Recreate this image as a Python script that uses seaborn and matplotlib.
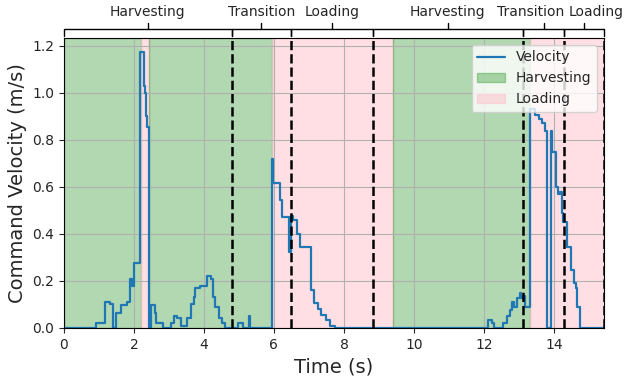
import numpy as np
import pandas as pd
import seaborn as sns
import matplotlib.pyplot as plt
import matplotlib.transforms as mtransforms

# Velocity trace (step-post)
time = [0.0, 0.93, 1.17, 1.31, 1.40, 1.50, 1.62, 1.79, 1.88, 1.96, 2.00, 2.17,
        2.28, 2.31, 2.34, 2.38, 2.44, 2.50, 2.60, 2.64, 2.82, 3.05, 3.15, 3.24,
        3.34, 3.52, 3.62, 3.71, 3.76, 3.90, 4.10, 4.19, 4.26, 4.33, 4.43, 4.52,
        4.60, 4.97, 5.13, 5.29, 5.33, 5.95, 5.98, 6.17, 6.24, 6.43, 6.49, 6.55,
        6.65, 6.74, 7.05, 7.15, 7.27, 7.35, 7.50, 7.60, 7.74, 12.12, 12.22,
        12.29, 12.55, 12.65, 12.74, 12.79, 12.86, 12.93, 13.02, 13.07, 13.12,
        13.17, 13.30, 13.47, 13.56, 13.65, 13.73, 13.79, 13.91, 13.95, 14.07,
        14.12, 14.17, 14.22, 14.27, 14.38, 14.49, 14.56, 14.62, 14.67, 14.74,
        15.43]
velocity = [0.0, 0.02, 0.11, 0.10, 0.0, 0.064, 0.098, 0.11, 0.21, 0.18, 0.275,
            1.176, 1.03, 1.00, 0.90, 0.857, 0.0, 0.098, 0.064, 0.02, 0.0, 0.02,
            0.05, 0.04, 0.01, 0.04, 0.10, 0.13, 0.17, 0.18, 0.22, 0.21, 0.13,
            0.09, 0.04, 0.02, 0.0, 0.02, 0.0, 0.05, 0.0, 0.72, 0.617, 0.545,
            0.47, 0.325, 0.475, 0.46, 0.40, 0.346, 0.16, 0.105, 0.08, 0.055,
            0.034, 0.01, 0.0, 0.034, 0.02, 0.0, 0.02, 0.05, 0.077, 0.11, 0.09,
            0.127, 0.148, 0.127, 0.135, 0.09, 0.93, 0.905, 0.89, 0.87, 0.84,
            0.0, 0.84, 0.75, 0.60, 0.57, 0.58, 0.49, 0.45, 0.346, 0.247, 0.19,
            0.17, 0.09, 0.0, 0.0]

# Shaded states (start, end, state)
span_start = [0.0, 2.19, 2.43, 5.95, 9.40, 13.30]
span_end = [2.19, 2.43, 5.95, 9.40, 13.30, 15.43]
span_state = ['Harvesting', 'Loading', 'Harvesting', 'Loading', 'Harvesting', 'Loading']

# Phase brackets on top
phase_bounds = [0.0, 4.80, 6.49, 8.83, 13.11, 14.29, 15.43]
phase_labels = ['Harvesting', 'Transition', 'Loading', 'Harvesting', 'Transition', 'Loading']
# small horizontal nudges so the last labels don't collide
label_shift = [0, 0, 0, 0, -0.36, 0.34]

df = pd.DataFrame({'Time': time, 'Velocity': velocity})

sns.set_style('ticks')
plt.rcParams['font.family'] = ['DejaVu Sans']

fig, ax = plt.subplots(figsize=(6.26, 3.76), dpi=100)
fig.subplots_adjust(left=0.102, right=0.965, top=0.899, bottom=0.128)
ax.set_axisbelow('line')

span_style = {'Harvesting': dict(color='green', alpha=0.3),
              'Loading': dict(color='pink', alpha=0.5)}
seen = set()
for s, e, st in zip(span_start, span_end, span_state):
    lab = st if st not in seen else None
    seen.add(st)
    ax.axvspan(s, e, label=lab, **span_style[st])

sns.lineplot(data=df, x='Time', y='Velocity', drawstyle='steps-post',
             color='#1f77b4', linewidth=1.6, label='Velocity', ax=ax,
             estimator=None, sort=False)

for b in phase_bounds[1:]:
    ax.axvline(b, color='black', linestyle='--', linewidth=1.8, zorder=3)

# brackets above the axes
trans = mtransforms.blended_transform_factory(ax.transData, ax.transAxes)
for a, b, lab, dx in zip(phase_bounds[:-1], phase_bounds[1:], phase_labels, label_shift):
    m = (a + b) / 2
    ax.plot([a, a, b, b], [1.008, 1.031, 1.031, 1.008], color='black',
            linewidth=1.0, transform=trans, clip_on=False, zorder=5)
    ax.plot([m, m], [1.031, 1.053], color='black', linewidth=1.0,
            transform=trans, clip_on=False, zorder=5)
    ax.text(m + dx, 1.09, lab, transform=trans, ha='center', va='center',
            fontsize=10)

ax.set_xlim(0, 15.43)
ax.set_ylim(0, 1.234)
ax.grid(True, color='#b0b0b0', linewidth=0.8)
ax.set_xlabel('Time (s)', fontsize=14)
ax.set_ylabel('Command Velocity (m/s)', fontsize=14)
ax.tick_params(labelsize=10)
for sp in ax.spines.values():
    sp.set_color('black')

h, l = ax.get_legend_handles_labels()
order = [l.index('Velocity'), l.index('Harvesting'), l.index('Loading')]
ax.legend([h[i] for i in order], [l[i] for i in order], loc='upper right',
          fontsize=10)

fig.savefig('out.png', dpi=100)
